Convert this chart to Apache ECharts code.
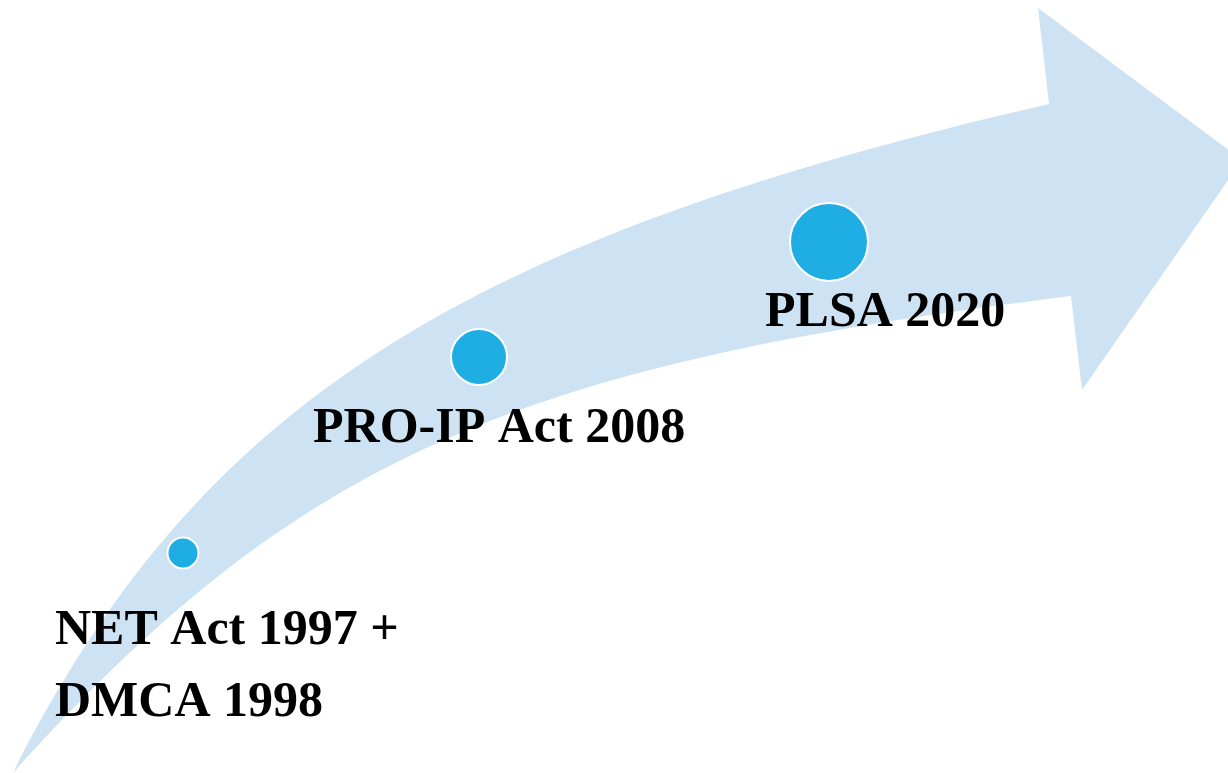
<!DOCTYPE html>
<html>
<head>
<meta charset="utf-8">
<script src="https://cdn.jsdelivr.net/npm/echarts@6/dist/echarts.min.js"></script>
<style>
  html, body { margin: 0; padding: 0; background: #ffffff; }
  #chart { width: 1228px; height: 773px; }
</style>
</head>
<body>
<div id="chart"></div>
<script>
// ---- Data (diagram coordinates on hidden value axes) ----
const milestoneNames = ['NET Act 1997 +\nDMCA 1998', 'PRO-IP Act 2008', 'PLSA 2020'];
const milestoneX = [183, 479, 829];
const milestoneY = [553, 357, 242];

// Arrow outline, as cubic curves: [start, control1, control2, end]
const arrowUpperCurve = [[13,773],[198,407],[457,240],[1049,104]];
const arrowHead = [[1038,8],[1242,160],[1082,390],[1071,296]];
const arrowLowerCurve = [[13,773],[295,461],[506,366],[1071,296]];

// ---- Chart ----
const chart = echarts.init(document.getElementById('chart'), null, { renderer: 'canvas' });

const labelOffsets = [[-128, 114], [-166, 72], [-64, 71]];
const symbolSizes = [31, 56, 78];

const option = {
  animation: false,
  backgroundColor: '#ffffff',
  grid: { left: 0, right: 0, top: 0, bottom: 0 },
  xAxis: { type: 'value', min: 0, max: 1228, show: false },
  yAxis: { type: 'value', min: 0, max: 773, inverse: true, show: false },
  series: [
    {
      type: 'custom',
      clip: false,
      silent: true,
      z: 1,
      data: [[0, 0]],
      renderItem: function (params, api) {
        const up = arrowUpperCurve.map(p => api.coord(p));
        const head = arrowHead.map(p => api.coord(p));
        const low = arrowLowerCurve.map(p => api.coord(p));
        const pt = p => p[0] + ' ' + p[1];
        let d = 'M' + pt(up[0]) + ' C' + pt(up[1]) + ' ' + pt(up[2]) + ' ' + pt(up[3]);
        head.forEach(p => { d += ' L' + pt(p); });
        d += ' C' + pt(low[2]) + ' ' + pt(low[1]) + ' ' + pt(low[0]);
        d += ' Z';
        return {
          type: 'path',
          shape: { pathData: d },
          style: { fill: '#cde3f4', stroke: null }
        };
      }
    },
    {
      type: 'scatter',
      z: 3,
      symbol: 'circle',
      itemStyle: { color: '#1eaee3', borderColor: '#ffffff', borderWidth: 2, opacity: 1 },
      label: {
        show: true,
        position: 'inside',
        formatter: '{b}',
        align: 'left',
        verticalAlign: 'middle',
        fontFamily: '"Liberation Serif", "Times New Roman", serif',
        fontWeight: 'bold',
        fontSize: 50,
        lineHeight: 72,
        color: '#000000'
      },
      data: milestoneNames.map((n, i) => ({
        name: n,
        value: [milestoneX[i], milestoneY[i]],
        symbolSize: symbolSizes[i],
        label: { offset: labelOffsets[i] }
      }))
    }
  ]
};
chart.setOption(option);
</script>
</body>
</html>
